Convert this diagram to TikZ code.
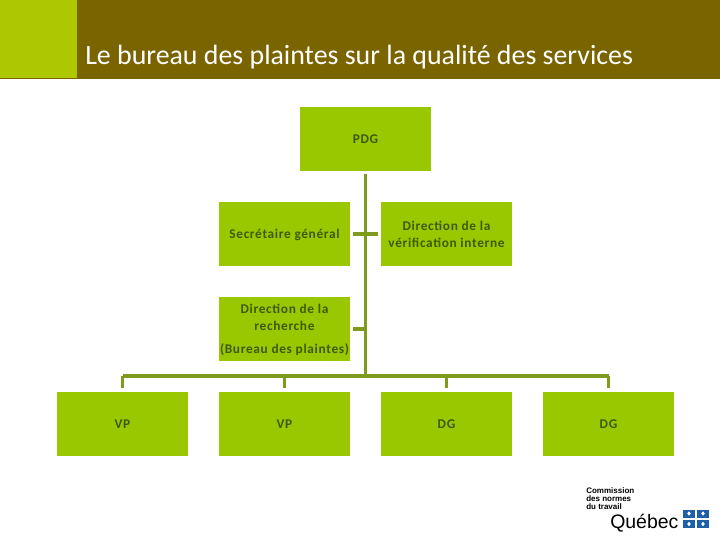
\documentclass[tikz,border=0pt]{standalone}
\usepackage{fontspec}
\setmainfont{Carlito}
\newfontfamily\logofont{Liberation Sans}
\newfontfamily\boxfont[LetterSpace=5]{Carlito Bold}
\definecolor{bandcol}{HTML}{7A6400}
\definecolor{squarecol}{HTML}{AEC800}
\definecolor{boxcol}{HTML}{99C800}
\definecolor{linecol}{HTML}{7F9B1E}
\definecolor{textcol}{HTML}{3F5A06}
\definecolor{flagcol}{HTML}{1F5FA8}
\tikzset{
	orgbox/.style={fill=boxcol, minimum width=98.25pt, minimum height=48pt, inner sep=0pt, align=center, text=textcol, text depth=0pt, font=\boxfont\fontsize{10}{12.5}\selectfont},
	orgline/.style={draw=linecol, line width=2.4pt},
	flagbox/.style={fill=flagcol, minimum width=8.6pt, minimum height=6pt, inner sep=0pt},
	logotext/.style={inner sep=0pt, anchor=west, font=\logofont\bfseries\fontsize{6}{6}\selectfont}
}
\begin{document}
\begin{tikzpicture}[x=0.75pt, y=-0.75pt, line join=round]
	\useasboundingbox (0,0) rectangle (720,540);
	%%%%%%%%%%%%%%%%%%%%%%%%%%%%%%%%%
	\fill[bandcol] (0,0) rectangle (720,79);
	\fill[squarecol] (0,0) rectangle (77,78);
	\node[anchor=base west, inner sep=0pt, text=white, font=\fontsize{20.9}{24}\selectfont] (title) at (85,64) {Le bureau des plaintes sur la qualité des services};
	%%%%%%%%%%%%%%%%%%%%%%%%%%%%%%%%%
	\node[orgbox] (pdg) at (365.5,139) {PDG};
	\node[orgbox] (sg) at (284.5,234) {Secrétaire général};
	\node[orgbox] (dvi) at (446.5,234) {Direction de la\\vérification interne};
	\node[orgbox] (drb) at (284.5,329) {Direction de la\\recherche\\[5pt](Bureau des plaintes)};
	\node[orgbox] (vpa) at (122.5,424) {VP};
	\node[orgbox] (vpb) at (284.5,424) {VP};
	\node[orgbox] (dga) at (446.5,424) {DG};
	\node[orgbox] (dgb) at (608.5,424) {DG};
	%%%%%%%%%%%%%%%%%%%%%%%%%%%%%%%%%
	\coordinate (bus) at (365.5,376);
	\begin{scope}[orgline]
		\draw[shorten <=2pt] (pdg.south) -- (pdg.south |- bus);
		\draw[shorten >=3pt] (vpa.north |- bus) -- (vpa.north);
		\draw[shorten >=3pt] (vpb.north |- bus) -- (vpb.north);
		\draw[shorten >=3pt] (dga.north |- bus) -- (dga.north);
		\draw[shorten >=3pt] (dgb.north |- bus) -- (dgb.north);
		\draw (vpa.north |- bus) -- (dgb.north |- bus);
		\draw[shorten <=2pt, shorten >=2pt] (sg.east) -- (dvi.west);
		\draw[shorten <=2pt] (drb.east) -- (pdg.south |- drb.east);
	\end{scope}
	%%%%%%%%%%%%%%%%%%%%%%%%%%%%%%%%%
	\node[logotext] (cnt) at (586,491) {Commission};
	\node[logotext] (cntb) at (586,499) {des normes};
	\node[logotext] (cntc) at (586,507) {du travail};
	\node[anchor=base west, inner sep=0pt, font=\logofont\fontsize{14.6}{16}\selectfont] (qc) at (610,528) {Québec};
	\node[flagbox] (fa) at (689,513.5) {};
	\node[flagbox] (fb) at (703,513.5) {};
	\node[flagbox] (fc) at (689,524) {};
	\node[flagbox] (fd) at (703,524) {};
	\foreach \f in {fa,fb,fc,fd}
		\fill[white] (\f.center) ++(-1.8,0) -- ++(1.8,-2.2) -- ++(1.8,2.2) -- ++(-1.8,2.2) -- cycle;
	%%%%%%%%%%%%%%%%%%%%%%%%%%%%%%%%%
\end{tikzpicture}
\end{document}
